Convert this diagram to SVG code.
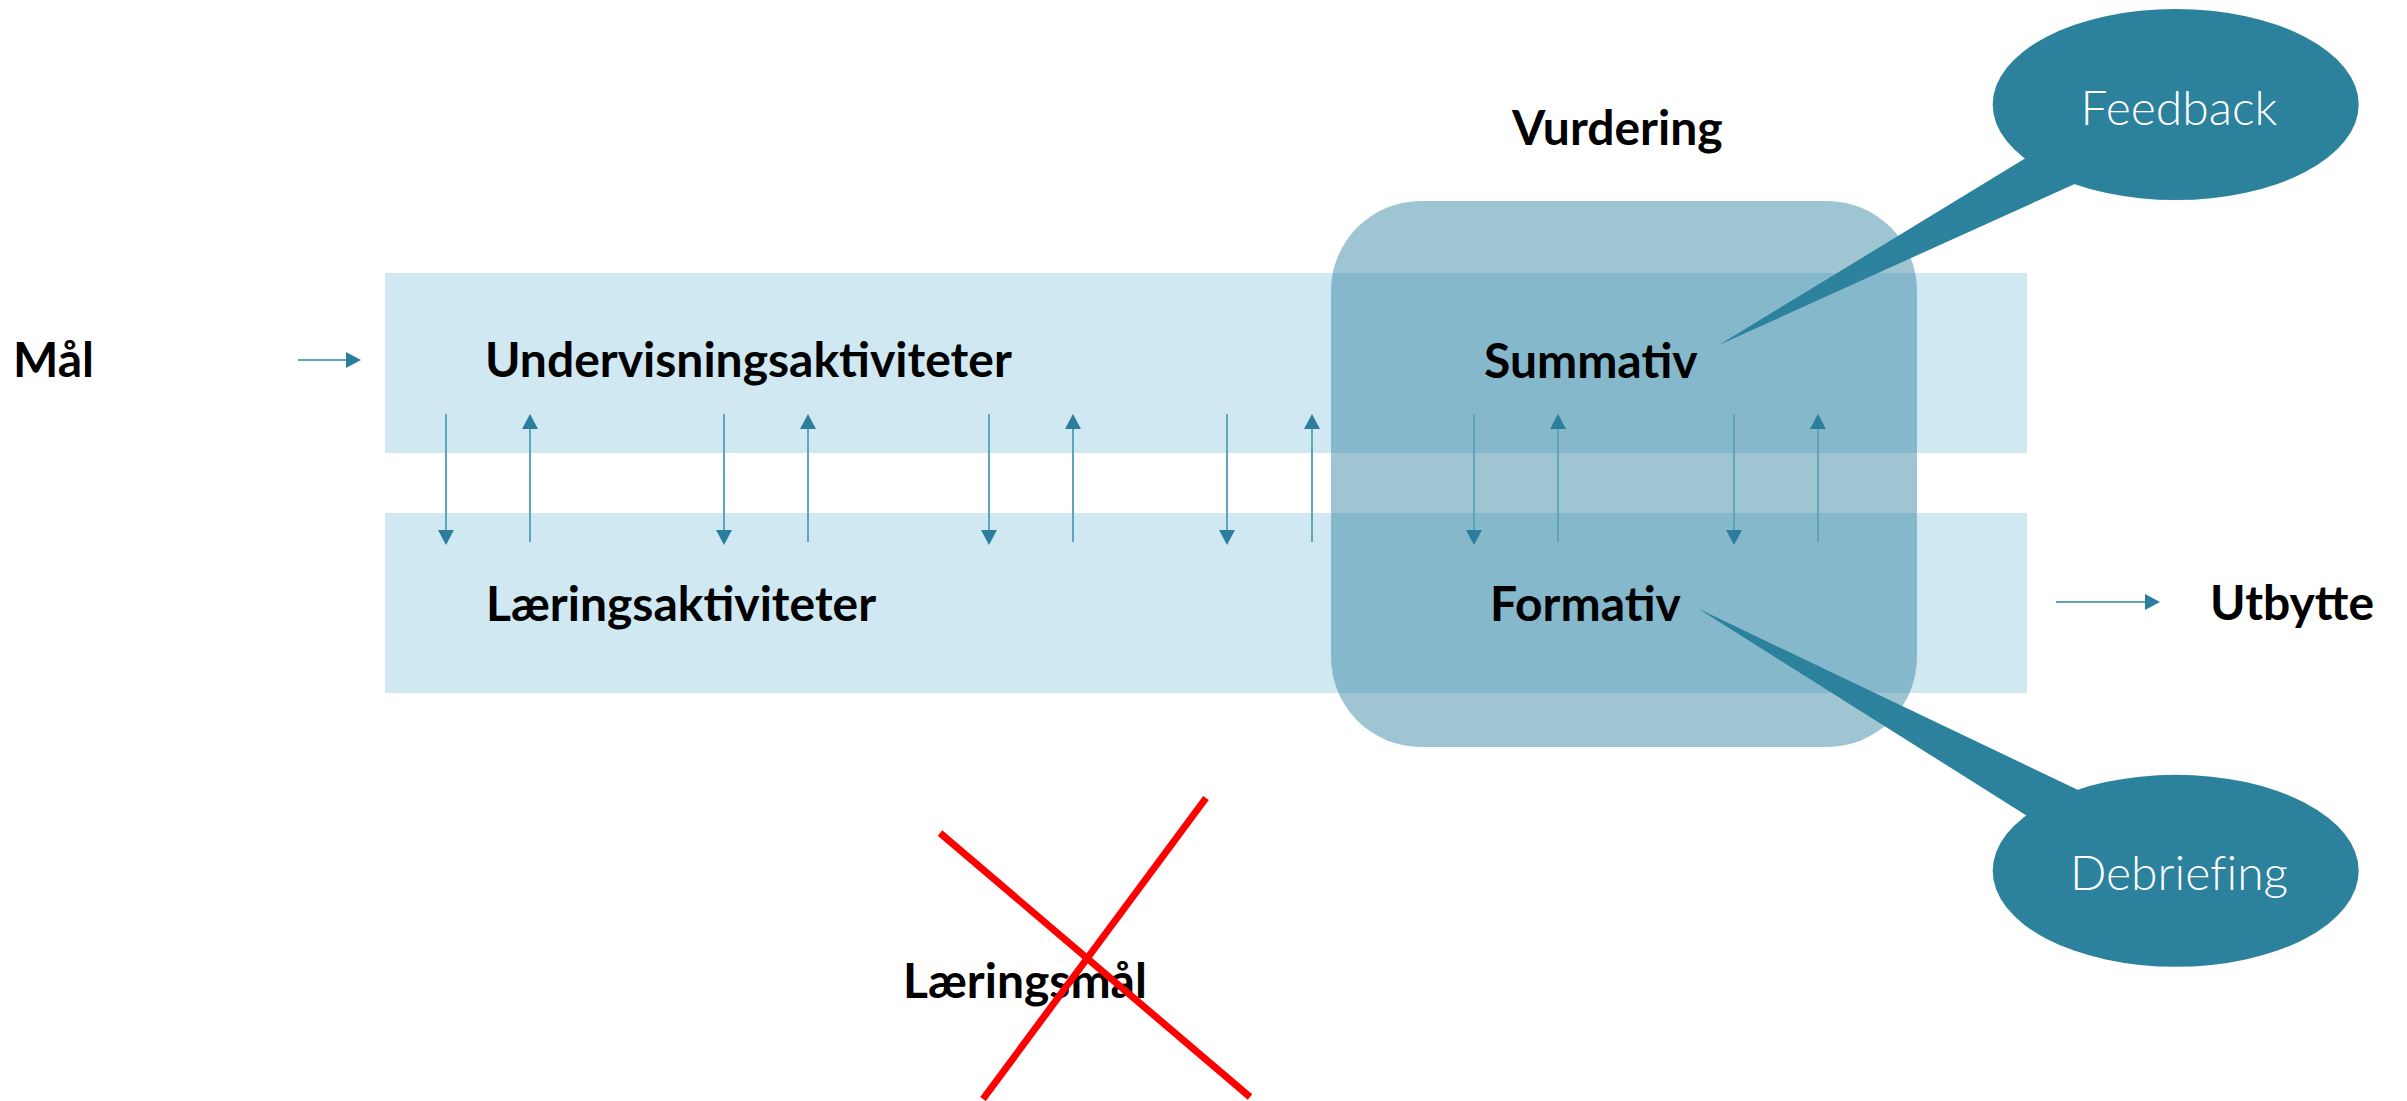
<svg xmlns="http://www.w3.org/2000/svg" width="2407" height="1101" viewBox="0 0 2407 1101">
<style>
.band{fill:#d0e8f1}
.lbl{font-family:Lato,"Liberation Sans",sans-serif;font-weight:700;font-size:48px;fill:#000}
.bub{fill:#2c819d}
.btxt{font-family:Lato,"Liberation Sans",sans-serif;font-weight:300;font-size:48px;fill:#fff;text-anchor:middle;font-variant-ligatures:none}
.arr{stroke:#5fa4bd;stroke-width:2;fill:none;marker-end:url(#ah)}
.x{stroke:#ff0000;stroke-width:7}
</style>
<defs>
<marker id="ah" viewBox="0 0 15 16" refX="0" refY="8" markerWidth="15" markerHeight="16" markerUnits="userSpaceOnUse" orient="auto">
<path d="M0,0 L15,8 L0,16 Z" fill="#2b7f9c"/>
</marker>
</defs>
<rect width="2407" height="1101" fill="#fff"/>
<g id="band-undervisning"><rect class="band" x="385" y="273" width="1642" height="180"/></g>
<g id="band-laering"><rect class="band" x="385" y="513" width="1642" height="180"/></g>
<g id="vurdering-box"><rect x="1331" y="201" width="586" height="546" rx="90" ry="90" fill="#2d809f" fill-opacity="0.46"/></g>
<g id="connectors">
<line class="arr" x1="298" y1="360" x2="346" y2="360"/>
<line class="arr" x1="2056" y1="602" x2="2145" y2="602"/>
<line class="arr" x1="446" y1="414" x2="446" y2="530"/>
<line class="arr" x1="530" y1="542" x2="530" y2="429"/>
<line class="arr" x1="724" y1="414" x2="724" y2="530"/>
<line class="arr" x1="808" y1="542" x2="808" y2="429"/>
<line class="arr" x1="989" y1="414" x2="989" y2="530"/>
<line class="arr" x1="1073" y1="542" x2="1073" y2="429"/>
<line class="arr" x1="1227" y1="414" x2="1227" y2="530"/>
<line class="arr" x1="1312" y1="542" x2="1312" y2="429"/>
<line class="arr" x1="1474" y1="414" x2="1474" y2="530"/>
<line class="arr" x1="1558" y1="542" x2="1558" y2="429"/>
<line class="arr" x1="1734" y1="414" x2="1734" y2="530"/>
<line class="arr" x1="1818" y1="542" x2="1818" y2="429"/>
</g>
<g id="maal"><text class="lbl" x="13" y="377">Mål</text></g>
<g id="undervisningsaktiviteter"><text class="lbl" x="485" y="377">Undervisningsaktiviteter</text></g>
<g id="laeringsaktiviteter"><text class="lbl" x="486" y="621">Læringsaktiviteter</text></g>
<g id="vurdering"><text class="lbl" x="1512" y="145">Vurdering</text></g>
<g id="summativ"><text class="lbl" x="1484" y="378">Summativ</text></g>
<g id="formativ"><text class="lbl" x="1490" y="621">Formativ</text></g>
<g id="utbytte"><text class="lbl" x="2210" y="620">Utbytte</text></g>
<g id="feedback">
<polygon class="bub" points="1719,345 2054.5,140.6 2109.5,168.2"/>
<ellipse class="bub" cx="2175.7" cy="104.5" rx="183" ry="95.5"/>
<text class="btxt" x="2179" y="125">Feedback</text>
</g>
<g id="debriefing">
<polygon class="bub" points="1698,608.5 2114.6,807.4 2059.6,836.4"/>
<ellipse class="bub" cx="2175.7" cy="870.8" rx="183" ry="96"/>
<text class="btxt" x="2179" y="890">Debriefing</text>
</g>
<g id="laeringsmaal"><text class="lbl" x="903" y="998">Læringsmål</text></g>
<g id="cross">
<line class="x" x1="940" y1="833" x2="1250" y2="1097"/>
<line class="x" x1="1206" y1="798" x2="983" y2="1099"/>
</g>
</svg>
